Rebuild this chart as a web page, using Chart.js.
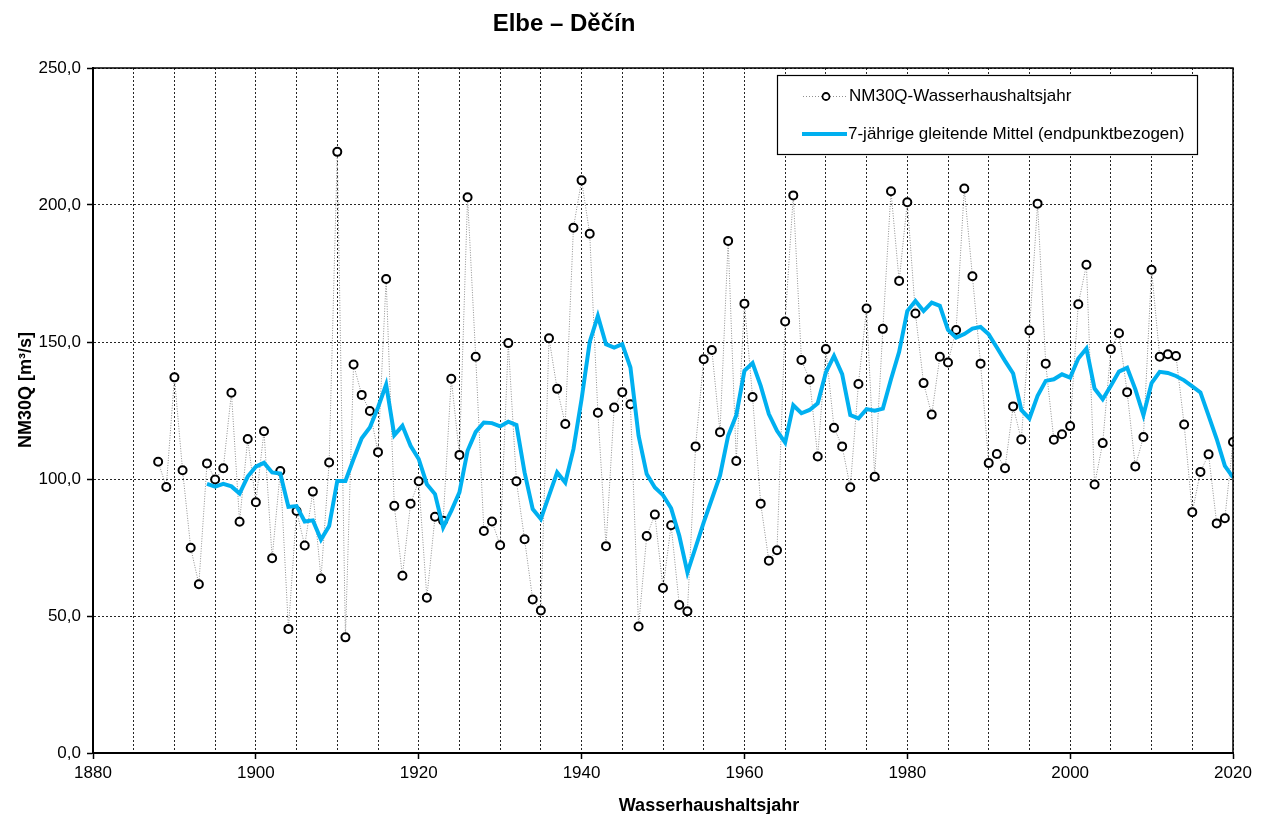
<!DOCTYPE html>
<html>
<head>
<meta charset="utf-8">
<title>Elbe – Děčín</title>
<script src="https://cdn.jsdelivr.net/npm/chart.js@4.4.1/dist/chart.umd.min.js"></script>
<style>
    html, body { margin: 0; padding: 0; background: #fff; }
    #chart { display: block; }
</style>
</head>
<body>
<canvas id="chart" width="1262" height="814"></canvas>
<script>
// ===== Elbe – Děčín, NM30Q per Wasserhaushaltsjahr =====

var FONT = '"Liberation Sans", Arial, sans-serif';

// ===== Data =====

var years = [
    1888, 1889,
    1890, 1891, 1892, 1893, 1894, 1895, 1896, 1897, 1898, 1899,
    1900, 1901, 1902, 1903, 1904, 1905, 1906, 1907, 1908, 1909,
    1910, 1911, 1912, 1913, 1914, 1915, 1916, 1917, 1918, 1919,
    1920, 1921, 1922, 1923, 1924, 1925, 1926, 1927, 1928, 1929,
    1930, 1931, 1932, 1933, 1934, 1935, 1936, 1937, 1938, 1939,
    1940, 1941, 1942, 1943, 1944, 1945, 1946, 1947, 1948, 1949,
    1950, 1951, 1952, 1953, 1954, 1955, 1956, 1957, 1958, 1959,
    1960, 1961, 1962, 1963, 1964, 1965, 1966, 1967, 1968, 1969,
    1970, 1971, 1972, 1973, 1974, 1975, 1976, 1977, 1978, 1979,
    1980, 1981, 1982, 1983, 1984, 1985, 1986, 1987, 1988, 1989,
    1990, 1991, 1992, 1993, 1994, 1995, 1996, 1997, 1998, 1999,
    2000, 2001, 2002, 2003, 2004, 2005, 2006, 2007, 2008, 2009,
    2010, 2011, 2012, 2013, 2014, 2015, 2016, 2017, 2018, 2019,
    2020
];

// NM30Q [m³/s]
var nm30q = [
    106.3, 97.1,
    137.1, 103.2, 74.9, 61.6, 105.7, 99.8, 103.9, 131.5, 84.4, 114.6,
    91.5, 117.4, 71.1, 102.9, 45.3, 88.3, 75.7, 95.4, 63.7, 106.0,
    219.4, 42.2, 141.8, 130.7, 124.8, 109.8, 173.0, 90.2, 64.7, 91.0,
    99.2, 56.7, 86.2, 84.8, 136.6, 108.8, 202.8, 144.6, 81.0, 84.5,
    75.8, 149.6, 99.2, 78.0, 56.0, 52.0, 151.4, 132.9, 120.1, 191.7,
    209.0, 189.5, 124.2, 75.5, 126.1, 131.7, 127.3, 46.2, 79.2, 87.0,
    60.2, 83.1, 54.0, 51.7, 111.9, 143.7, 147.1, 117.1, 186.9, 106.6,
    164.0, 129.9, 91.0, 70.2, 74.0, 157.5, 203.5, 143.4, 136.3, 108.2,
    147.4, 118.7, 111.9, 97.0, 134.7, 162.2, 100.8, 154.8, 205.0, 172.3,
    201.0, 160.4, 135.0, 123.5, 144.6, 142.5, 154.4, 206.0, 174.0, 142.1,
    105.8, 109.1, 103.9, 126.5, 114.4, 154.2, 200.5, 142.1, 114.3, 116.3,
    119.3, 163.8, 178.2, 98.0, 113.1, 147.4, 153.2, 131.7, 104.6, 115.3,
    176.4, 144.6, 145.5, 144.9, 119.9, 87.9, 102.6, 109.0, 83.8, 85.7,
    113.5
];

var meanYears = [
    1894, 1895, 1896, 1897, 1898, 1899,
    1900, 1901, 1902, 1903, 1904, 1905, 1906, 1907, 1908, 1909,
    1910, 1911, 1912, 1913, 1914, 1915, 1916, 1917, 1918, 1919,
    1920, 1921, 1922, 1923, 1924, 1925, 1926, 1927, 1928, 1929,
    1930, 1931, 1932, 1933, 1934, 1935, 1936, 1937, 1938, 1939,
    1940, 1941, 1942, 1943, 1944, 1945, 1946, 1947, 1948, 1949,
    1950, 1951, 1952, 1953, 1954, 1955, 1956, 1957, 1958, 1959,
    1960, 1961, 1962, 1963, 1964, 1965, 1966, 1967, 1968, 1969,
    1970, 1971, 1972, 1973, 1974, 1975, 1976, 1977, 1978, 1979,
    1980, 1981, 1982, 1983, 1984, 1985, 1986, 1987, 1988, 1989,
    1990, 1991, 1992, 1993, 1994, 1995, 1996, 1997, 1998, 1999,
    2000, 2001, 2002, 2003, 2004, 2005, 2006, 2007, 2008, 2009,
    2010, 2011, 2012, 2013, 2014, 2015, 2016, 2017, 2018, 2019,
    2020
];

// 7-jährige gleitende Mittel (endpunktbezogen)
var mean7 = [
    98.2, 97.2, 98.2, 97.3, 94.7, 100.9,
    104.5, 105.9, 102.4, 102.0, 89.8, 90.1, 84.5, 84.9, 77.9, 82.8,
    99.3, 99.3, 107.3, 114.9, 118.8, 126.1, 134.5, 116.0, 119.4, 112.1,
    107.3, 98.1, 94.5, 82.3, 88.4, 95.1, 110.3, 117.2, 120.6, 120.4,
    119.2, 120.9, 119.7, 102.4, 89.0, 85.4, 93.9, 102.4, 98.7, 110.9,
    129.1, 150.0, 159.5, 149.2, 148.0, 149.2, 140.7, 115.8, 101.8, 96.9,
    94.1, 89.3, 79.3, 65.9, 75.0, 84.2, 92.7, 101.2, 115.8, 123.3,
    139.5, 142.3, 134.0, 123.7, 117.6, 113.3, 126.9, 124.0, 125.2, 127.6,
    138.9, 144.9, 138.3, 123.3, 122.1, 125.5, 124.9, 125.7, 136.4, 146.4,
    161.3, 165.0, 161.3, 164.4, 163.2, 154.4, 151.6, 152.9, 154.9, 155.5,
    152.8, 148.0, 143.1, 138.5, 125.2, 122.1, 130.4, 135.8, 136.4, 138.2,
    137.0, 144.0, 147.6, 133.0, 129.1, 134.0, 139.2, 140.6, 132.8, 123.3,
    135.0, 139.1, 138.7, 137.6, 136.0, 133.8, 131.6, 123.1, 114.6, 104.8,
    100.6
];

var xLabelYears = [1880, 1900, 1920, 1940, 1960, 1980, 2000, 2020];

var titleText = 'Elbe – Děčín';
var xTitle = 'Wasserhaushaltsjahr';
var yTitle = 'NM30Q [m³/s]';
var seriesLabel = 'NM30Q-Wasserhaushaltsjahr';
var meanLabel = '7-jährige gleitende Mittel (endpunktbezogen)';

var BLUE = '#00b0f0';
var DOT_LINE = '#8f8f8f';

// ===== Helpers =====

function toPoints(xs, ys) {
    var out = [];
    for (var i = 0; i < xs.length; i++) out.push({ x: xs[i], y: ys[i] });
    return out;
}

function formatComma(v) {
    return v.toFixed(1).replace('.', ',');
}

// ===== Frame, legend and titles drawn over the chart =====

var decorPlugin = {
    id: 'decor',
    afterDraw: function(chart) {
        var ctx = chart.ctx;
        var a = chart.chartArea;
        ctx.save();

        // plot frame
        ctx.strokeStyle = '#000';
        ctx.lineWidth = 1.5;
        ctx.setLineDash([]);
        ctx.strokeRect(a.left, a.top, a.right - a.left, a.bottom - a.top);

        // legend box
        ctx.fillStyle = '#fff';
        ctx.fillRect(777, 75, 420, 79);
        ctx.lineWidth = 1.2;
        ctx.strokeRect(777.5, 75.5, 420, 79);

        // legend row 1: dotted line + circle
        ctx.strokeStyle = DOT_LINE;
        ctx.lineWidth = 1;
        ctx.setLineDash([1, 2]);
        ctx.beginPath();
        ctx.moveTo(803, 96.5);
        ctx.lineTo(848, 96.5);
        ctx.stroke();
        ctx.setLineDash([]);
        ctx.beginPath();
        ctx.arc(826, 96.5, 3.5, 0, Math.PI * 2);
        ctx.fillStyle = '#fff';
        ctx.fill();
        ctx.strokeStyle = '#000';
        ctx.lineWidth = 1.8;
        ctx.stroke();

        // legend row 2: blue line
        ctx.strokeStyle = BLUE;
        ctx.lineWidth = 4;
        ctx.beginPath();
        ctx.moveTo(802, 134);
        ctx.lineTo(847, 134);
        ctx.stroke();

        ctx.fillStyle = '#000';
        ctx.font = '17px ' + FONT;
        ctx.textAlign = 'left';
        ctx.textBaseline = 'middle';
        ctx.fillText(seriesLabel, 849, 96);
        ctx.fillText(meanLabel, 848, 134);

        // chart title
        ctx.font = 'bold 24px ' + FONT;
        ctx.textAlign = 'center';
        ctx.textBaseline = 'alphabetic';
        ctx.fillText(titleText, 564, 31);

        // x axis title
        ctx.font = 'bold 18px ' + FONT;
        ctx.fillText(xTitle, 709, 811);

        // y axis title
        ctx.translate(31, 390);
        ctx.rotate(-Math.PI / 2);
        ctx.fillText(yTitle, 0, 0);

        ctx.restore();
    }
};

// ===== Chart =====

new Chart(document.getElementById('chart'), {
    type: 'line',
    data: {
        datasets: [{
            label: meanLabel,
            data: toPoints(meanYears, mean7),
            borderColor: BLUE,
            borderWidth: 4,
            pointRadius: 0,
            tension: 0,
            fill: false,
            order: 0
        }, {
            label: seriesLabel,
            data: toPoints(years, nm30q),
            borderColor: DOT_LINE,
            borderWidth: 1,
            borderDash: [1, 1.5],
            pointRadius: 4,
            pointBorderWidth: 2,
            pointBorderColor: '#000',
            pointBackgroundColor: '#fff',
            tension: 0,
            fill: false,
            order: 1
        }]
    },
    options: {
        responsive: false,
        animation: false,
        devicePixelRatio: 1,
        layout: { padding: { left: 0, right: 29, top: 68, bottom: 0 } },
        plugins: {
            legend: { display: false },
            tooltip: { enabled: false },
            title: { display: false }
        },
        scales: {
            x: {
                type: 'linear',
                min: 1880,
                max: 2020,
                afterFit: function(scale) { scale.height = 61; },
                ticks: {
                    stepSize: 5,
                    autoSkip: false,
                    maxRotation: 0,
                    padding: 4,
                    color: '#000',
                    font: { family: FONT, size: 17 },
                    callback: function(v) {
                        return xLabelYears.indexOf(v) >= 0 ? String(v) : '';
                    }
                },
                grid: {
                    color: 'rgba(0, 0, 0, 0.85)',
                    lineWidth: 1,
                    tickLength: 6,
                    tickColor: function(c) {
                        return c.tick && xLabelYears.indexOf(c.tick.value) >= 0 ? '#000' : 'rgba(0,0,0,0)';
                    },
                    tickWidth: 1.5
                },
                border: { display: true, color: '#000', width: 2, dash: [2, 2] }
            },
            y: {
                min: 0,
                max: 250,
                afterFit: function(scale) { scale.width = 93; },
                ticks: {
                    stepSize: 50,
                    padding: 6,
                    color: '#000',
                    font: { family: FONT, size: 17 },
                    callback: function(v) { return formatComma(v); }
                },
                grid: {
                    color: 'rgba(0, 0, 0, 0.85)',
                    lineWidth: 1,
                    tickLength: 6,
                    tickColor: '#000',
                    tickWidth: 1.5
                },
                border: { display: true, color: '#000', width: 2, dash: [2, 2] }
            }
        }
    },
    plugins: [decorPlugin]
});
</script>
</body>
</html>
